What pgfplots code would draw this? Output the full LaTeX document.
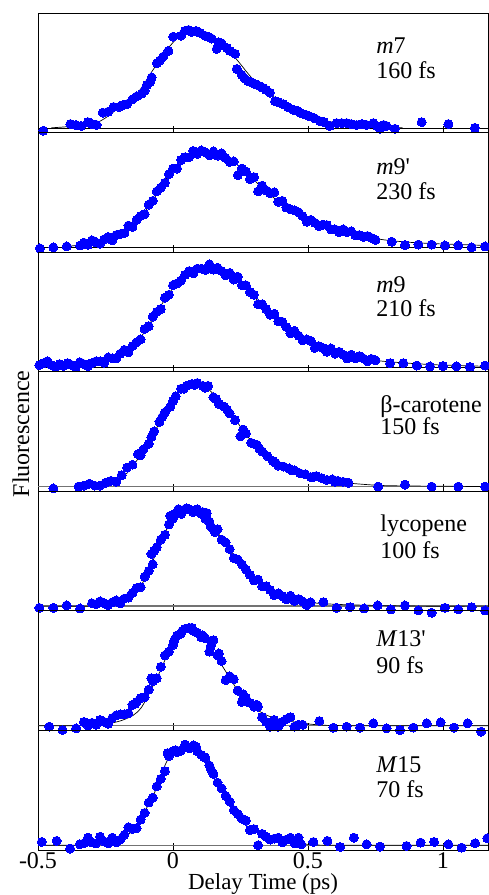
\documentclass[border=0pt]{standalone}
\usepackage{fontspec}
\setmainfont{Liberation Serif}
\usepackage{pgfplots}
\pgfplotsset{compat=1.18}

\pgfplotsset{
  panel/.style={
    scale only axis, width=450pt, height=119.57pt, anchor=south west,
    xmin=-0.5, xmax=1.1667, ymin=-0.05, ymax=1.2086,
    xtick={-0.5,0,0.5,1}, xticklabels={}, xtick pos=left, tick align=inside,
    major tick length=7pt, ytick=\empty,
    axis line style={line width=0.8pt},
    every tick/.style={black, line width=0.8pt},
    clip=false,
    ticklabel style={font=\fontsize{24}{25}\selectfont, inner sep=2pt},
  },
  dots/.style={only marks, mark=*, mark size=4.5pt, color=blue, mark options={fill=blue, draw=blue, line width=0pt}},
  fit/.style={black, line width=0.7pt, smooth, no marks},
  zero/.style={black, line width=0.6pt, no marks},
  zerog/.style={black!55, line width=1.4pt, no marks},
}
\tikzset{lab/.style={anchor=base west, font=\fontsize{24}{25}\selectfont}}

\begin{document}
\begin{tikzpicture}[x=1pt,y=1pt]

% m7
\begin{axis}[panel, at={(38pt,762.42pt)}]
\addplot[zero] coordinates {(-0.5,0) (1.1667,0)};
\addplot[dots] coordinates {(-0.48,-0.03) (-0.38,0.04) (-0.36,0.03) (-0.34,0.02) (-0.315,0.06) (-0.30,0.04) (-0.283,0.03) (-0.26,0.16) (-0.24,0.17) (-0.22,0.22) (-0.20,0.22) (-0.185,0.24) (-0.17,0.25) (-0.15,0.30) (-0.135,0.33) (-0.116,0.36) (-0.105,0.39) (-0.097,0.45) (-0.085,0.48) (-0.079,0.53) (-0.06,0.68) (-0.048,0.71) (-0.036,0.75) (-0.017,0.81) (0.001,0.96) (0.03,0.97) (0.044,1.02) (0.058,1.03) (0.069,1.01) (0.085,1.02) (0.1,1.0) (0.118,0.97) (0.13,0.96) (0.143,0.94) (0.162,0.83) (0.168,0.90) (0.18,0.89) (0.2,0.84) (0.211,0.81) (0.23,0.78) (0.236,0.62) (0.254,0.56) (0.265,0.52) (0.279,0.49) (0.29,0.48) (0.304,0.46) (0.32,0.44) (0.334,0.42) (0.345,0.40) (0.359,0.37) (0.378,0.28) (0.39,0.27) (0.408,0.25) (0.425,0.22) (0.446,0.19) (0.46,0.18) (0.47,0.16) (0.49,0.14) (0.507,0.12) (0.525,0.10) (0.544,0.07) (0.56,0.06) (0.581,0.02) (0.606,0.05) (0.625,0.05) (0.643,0.05) (0.66,0.04) (0.68,0.03) (0.70,0.04) (0.717,0.03) (0.742,0.05) (0.755,0.02) (0.767,-0.01) (0.78,0.03) (0.791,0.02) (0.822,-0.01) (0.921,0.06) (1.02,0.04) (1.118,0.0)};
\addplot[fit] coordinates {(-0.45,0) (-0.40,0.01) (-0.33,0.03) (-0.27,0.07) (-0.21,0.19) (-0.16,0.30) (-0.122,0.40) (-0.074,0.61) (-0.023,0.82) (0.026,0.97) (0.07,1.01) (0.11,1.0) (0.149,0.93) (0.223,0.76) (0.297,0.51) (0.385,0.30) (0.47,0.16) (0.57,0.07) (0.72,0.02) (0.85,0.0)};
\node[lab] at (axis description cs:0.744,0.665) {\textit{m}7};
\node[lab] at (axis description cs:0.744,0.456) {160 fs};
\end{axis}

% m9'
\begin{axis}[panel, at={(38pt,642.85pt)}]
\addplot[zero] coordinates {(-0.5,0) (1.1667,0)};
\addplot[dots] coordinates {(-0.493,-0.01) (-0.443,0.0) (-0.394,0.01) (-0.344,0.02) (-0.33,0.05) (-0.315,0.027) (-0.30,0.075) (-0.285,0.052) (-0.27,0.04) (-0.255,0.085) (-0.24,0.11) (-0.225,0.075) (-0.21,0.13) (-0.195,0.14) (-0.18,0.15) (-0.165,0.23) (-0.15,0.215) (-0.135,0.29) (-0.12,0.33) (-0.105,0.35) (-0.09,0.45) (-0.075,0.49) (-0.06,0.59) (-0.045,0.63) (-0.03,0.68) (-0.015,0.77) (0,0.83) (0.015,0.83) (0.03,0.92) (0.045,0.95) (0.06,0.95) (0.075,1.015) (0.09,0.985) (0.105,1.02) (0.12,1.0) (0.135,0.97) (0.15,1.01) (0.165,0.965) (0.18,0.99) (0.195,0.94) (0.21,0.90) (0.225,0.905) (0.24,0.76) (0.255,0.83) (0.27,0.80) (0.285,0.72) (0.30,0.74) (0.315,0.59) (0.33,0.65) (0.345,0.60) (0.36,0.57) (0.375,0.58) (0.39,0.48) (0.405,0.49) (0.42,0.42) (0.435,0.40) (0.45,0.39) (0.465,0.37) (0.48,0.33) (0.495,0.27) (0.51,0.29) (0.525,0.26) (0.54,0.225) (0.555,0.24) (0.57,0.235) (0.585,0.19) (0.60,0.19) (0.615,0.16) (0.63,0.19) (0.645,0.16) (0.66,0.17) (0.675,0.13) (0.69,0.13) (0.705,0.11) (0.72,0.12) (0.735,0.10) (0.75,0.08) (0.81,0.06) (0.859,0.025) (0.909,0.03) (0.958,0.03) (1.007,0.02) (1.057,0.02) (1.106,0.0) (1.156,0.01)};
\addplot[fit] coordinates {(-0.394,0.01) (-0.33,0.03) (-0.27,0.06) (-0.2,0.13) (-0.147,0.23) (-0.085,0.45) (-0.023,0.73) (0.038,0.94) (0.08,0.99) (0.125,1.0) (0.17,0.97) (0.223,0.90) (0.27,0.79) (0.322,0.65) (0.365,0.54) (0.409,0.45) (0.47,0.34) (0.532,0.25) (0.6,0.19) (0.656,0.15) (0.72,0.11) (0.78,0.08) (0.87,0.055) (0.963,0.04) (1.06,0.03) (1.1667,0.02)};
\node[lab] at (axis description cs:0.744,0.649) {\textit{m}9\textquotesingle};
\node[lab] at (axis description cs:0.744,0.440) {230 fs};
\end{axis}

% m9
\begin{axis}[panel, at={(38pt,523.28pt)}]
\addplot[zero] coordinates {(-0.5,0) (1.1667,0)};
\addplot[dots] coordinates {(-0.495,0.02) (-0.48,0.04) (-0.465,0.06) (-0.45,0.02) (-0.435,0.0) (-0.42,0.03) (-0.405,0.01) (-0.39,0.04) (-0.375,0.02) (-0.36,0.0) (-0.345,0.05) (-0.33,0.03) (-0.315,0.01) (-0.30,0.04) (-0.285,0.06) (-0.27,0.06) (-0.255,0.045) (-0.24,0.10) (-0.225,0.09) (-0.21,0.09) (-0.195,0.14) (-0.18,0.18) (-0.165,0.155) (-0.15,0.22) (-0.135,0.26) (-0.12,0.29) (-0.105,0.40) (-0.09,0.43) (-0.075,0.53) (-0.06,0.58) (-0.045,0.61) (-0.03,0.73) (-0.015,0.76) (0,0.86) (0.015,0.88) (0.03,0.91) (0.045,0.97) (0.06,1.01) (0.075,0.985) (0.09,1.035) (0.105,1.035) (0.12,1.02) (0.135,1.08) (0.15,1.025) (0.165,1.045) (0.18,1.01) (0.195,0.965) (0.21,0.99) (0.225,0.92) (0.24,0.95) (0.255,0.86) (0.27,0.86) (0.285,0.79) (0.30,0.76) (0.315,0.66) (0.33,0.66) (0.345,0.61) (0.36,0.55) (0.375,0.56) (0.39,0.48) (0.405,0.475) (0.42,0.42) (0.435,0.355) (0.45,0.38) (0.465,0.33) (0.48,0.28) (0.495,0.29) (0.51,0.275) (0.525,0.20) (0.54,0.22) (0.555,0.20) (0.57,0.16) (0.585,0.195) (0.60,0.14) (0.615,0.16) (0.63,0.13) (0.645,0.09) (0.66,0.13) (0.675,0.09) (0.69,0.115) (0.705,0.09) (0.72,0.06) (0.735,0.085) (0.75,0.07) (0.804,0.04) (0.853,0.04) (0.903,0.015) (0.952,0.006) (1.0,0.01) (1.05,0.006) (1.1,0.0) (1.156,0.015)};
\addplot[fit] coordinates {(-0.5,0.006) (-0.4,0.006) (-0.332,0.01) (-0.28,0.03) (-0.233,0.077) (-0.19,0.14) (-0.147,0.22) (-0.115,0.33) (-0.085,0.46) (-0.055,0.60) (-0.023,0.74) (0.008,0.86) (0.038,0.95) (0.08,1.02) (0.125,1.04) (0.16,1.03) (0.199,0.99) (0.235,0.91) (0.273,0.81) (0.31,0.71) (0.347,0.60) (0.39,0.49) (0.433,0.39) (0.48,0.30) (0.532,0.22) (0.59,0.16) (0.656,0.11) (0.72,0.08) (0.779,0.06) (0.87,0.04) (0.964,0.024) (1.06,0.015) (1.1667,0.006)};
\node[lab] at (axis description cs:0.744,0.660) {\textit{m}9};
\node[lab] at (axis description cs:0.744,0.465) {210 fs};
\end{axis}

% beta-carotene
\begin{axis}[panel, at={(38pt,403.71pt)}]
\addplot[zerog] coordinates {(-0.5,0) (1.1667,0)};
\addplot[dots] coordinates {(-0.443,-0.02) (-0.35,0.0) (-0.33,0.01) (-0.31,0.03) (-0.29,0.01) (-0.27,0.01) (-0.25,0.04) (-0.23,0.06) (-0.21,0.05) (-0.19,0.12) (-0.17,0.20) (-0.15,0.23) (-0.13,0.34) (-0.12,0.33) (-0.11,0.39) (-0.09,0.45) (-0.08,0.52) (-0.07,0.58) (-0.05,0.68) (-0.04,0.73) (-0.03,0.78) (-0.01,0.84) (0.0,0.90) (0.01,0.95) (0.03,1.03) (0.04,1.03) (0.05,1.06) (0.07,1.08) (0.08,1.07) (0.09,1.09) (0.11,1.06) (0.12,1.04) (0.13,1.06) (0.15,0.94) (0.16,0.92) (0.17,0.87) (0.19,0.84) (0.20,0.81) (0.21,0.77) (0.23,0.70) (0.25,0.53) (0.26,0.60) (0.27,0.56) (0.29,0.46) (0.31,0.44) (0.32,0.40) (0.33,0.37) (0.35,0.32) (0.37,0.27) (0.38,0.25) (0.39,0.22) (0.41,0.21) (0.43,0.19) (0.44,0.17) (0.45,0.17) (0.47,0.14) (0.49,0.13) (0.51,0.10) (0.52,0.10) (0.53,0.11) (0.55,0.09) (0.57,0.07) (0.59,0.075) (0.60,0.05) (0.61,0.06) (0.63,0.05) (0.65,0.04) (0.76,0.0) (0.859,0.02) (0.958,0.0) (1.057,0.0) (1.156,0.0)};
\addplot[fit] coordinates {(-0.357,0) (-0.29,0.01) (-0.233,0.04) (-0.2,0.08) (-0.171,0.14) (-0.14,0.25) (-0.11,0.38) (-0.085,0.50) (-0.06,0.62) (-0.04,0.73) (-0.023,0.83) (0.0,0.92) (0.014,0.97) (0.04,1.03) (0.063,1.06) (0.08,1.07) (0.10,1.07) (0.12,1.05) (0.137,1.01) (0.165,0.93) (0.199,0.83) (0.23,0.71) (0.26,0.59) (0.29,0.48) (0.322,0.38) (0.36,0.29) (0.409,0.20) (0.47,0.14) (0.532,0.095) (0.59,0.06) (0.656,0.035) (0.72,0.02) (0.78,0.01) (0.9,0.005) (1.1667,0.0)};
\node[lab] at (axis description cs:0.753,0.660) {β-carotene};
\node[lab] at (axis description cs:0.753,0.479) {150 fs};
\end{axis}

% lycopene
\begin{axis}[panel, at={(38pt,284.14pt)}]
\addplot[zerog] coordinates {(-0.5,0) (1.1667,0)};
\addplot[dots] coordinates {(-0.495,-0.018) (-0.443,-0.018) (-0.394,0.007) (-0.344,-0.025) (-0.30,0.03) (-0.285,0.02) (-0.27,0.05) (-0.255,0.03) (-0.24,0.01) (-0.225,0.04) (-0.21,0.06) (-0.195,0.03) (-0.18,0.08) (-0.165,0.09) (-0.15,0.14) (-0.135,0.19) (-0.12,0.20) (-0.105,0.31) (-0.09,0.37) (-0.08,0.55) (-0.075,0.44) (-0.07,0.58) (-0.06,0.62) (-0.045,0.70) (-0.03,0.75) (-0.015,0.86) (-0.01,0.95) (0,0.92) (0.005,0.97) (0.015,0.98) (0.02,1.02) (0.03,0.97) (0.045,1.02) (0.05,1.03) (0.06,1.02) (0.075,0.99) (0.08,1.01) (0.09,1.02) (0.105,0.97) (0.11,0.99) (0.12,0.92) (0.125,0.98) (0.135,0.89) (0.14,0.84) (0.15,0.81) (0.155,0.78) (0.165,0.81) (0.18,0.70) (0.195,0.67) (0.21,0.60) (0.225,0.505) (0.24,0.49) (0.255,0.44) (0.27,0.385) (0.285,0.33) (0.30,0.27) (0.315,0.28) (0.33,0.21) (0.345,0.21) (0.36,0.17) (0.375,0.115) (0.39,0.135) (0.405,0.105) (0.42,0.07) (0.435,0.11) (0.45,0.055) (0.465,0.075) (0.48,0.05) (0.495,0.01) (0.51,0.04) (0.557,0.042) (0.606,-0.018) (0.656,-0.011) (0.708,-0.025) (0.758,0.007) (0.807,-0.035) (0.859,0.007) (0.909,-0.046) (0.958,-0.07) (1.007,-0.018) (1.057,-0.035) (1.106,-0.011) (1.156,-0.046)};
\addplot[fit] coordinates {(-0.5,0) (-0.3,0) (-0.25,0.015) (-0.209,0.035) (-0.175,0.07) (-0.147,0.12) (-0.12,0.21) (-0.097,0.33) (-0.078,0.45) (-0.06,0.58) (-0.04,0.70) (-0.023,0.81) (0.0,0.90) (0.014,0.95) (0.04,0.99) (0.063,1.0) (0.09,0.99) (0.112,0.96) (0.135,0.89) (0.162,0.79) (0.19,0.67) (0.223,0.54) (0.255,0.42) (0.285,0.33) (0.315,0.25) (0.347,0.19) (0.38,0.14) (0.421,0.09) (0.46,0.06) (0.495,0.04) (0.593,0.02) (0.7,0.01) (0.9,0.0) (1.1667,0.0)};
\node[lab] at (axis description cs:0.753,0.660) {lycopene};
\node[lab] at (axis description cs:0.753,0.437) {100 fs};
\end{axis}

% M13'
\begin{axis}[panel, at={(38pt,164.57pt)}]
\addplot[zerog] coordinates {(-0.5,0) (1.1667,0)};
\addplot[dots] coordinates {(-0.458,-0.01) (-0.409,-0.046) (-0.359,-0.028) (-0.33,0.04) (-0.315,0.0) (-0.30,0.03) (-0.285,0.01) (-0.27,0.06) (-0.255,0.04) (-0.24,0.02) (-0.225,0.08) (-0.21,0.11) (-0.195,0.12) (-0.18,0.12) (-0.165,0.13) (-0.15,0.22) (-0.14,0.23) (-0.135,0.25) (-0.12,0.29) (-0.105,0.30) (-0.09,0.38) (-0.08,0.50) (-0.075,0.47) (-0.06,0.50) (-0.045,0.62) (-0.03,0.74) (-0.015,0.78) (0,0.85) (0.005,0.90) (0.015,0.95) (0.03,0.97) (0.035,1.0) (0.045,1.02) (0.06,1.03) (0.07,1.03) (0.075,1.00) (0.09,0.98) (0.105,0.93) (0.11,0.95) (0.12,0.92) (0.135,0.78) (0.14,0.84) (0.15,0.90) (0.165,0.74) (0.17,0.76) (0.18,0.68) (0.195,0.48) (0.21,0.52) (0.225,0.49) (0.24,0.37) (0.255,0.25) (0.26,0.33) (0.27,0.29) (0.285,0.24) (0.30,0.20) (0.31,0.22) (0.315,0.20) (0.33,0.09) (0.345,0.04) (0.36,-0.01) (0.375,0.06) (0.39,-0.01) (0.405,0.04) (0.42,0.07) (0.435,0.09) (0.45,-0.01) (0.465,0.01) (0.48,0.01) (0.542,0.049) (0.594,-0.021) (0.643,-0.01) (0.693,-0.02) (0.742,0.025) (0.791,-0.028) (0.841,-0.046) (0.89,-0.02) (0.94,0.025) (0.991,0.035) (1.041,-0.02) (1.091,0.025) (1.141,-0.063)};
\addplot[fit] coordinates {(-0.5,0) (-0.332,0) (-0.28,0.01) (-0.233,0.025) (-0.19,0.055) (-0.147,0.11) (-0.12,0.18) (-0.097,0.29) (-0.072,0.43) (-0.048,0.57) (-0.03,0.69) (-0.011,0.81) (0.008,0.91) (0.026,0.97) (0.045,1.01) (0.063,1.02) (0.08,1.01) (0.1,0.97) (0.125,0.89) (0.149,0.78) (0.18,0.64) (0.211,0.50) (0.24,0.37) (0.273,0.25) (0.31,0.17) (0.347,0.11) (0.39,0.07) (0.446,0.04) (0.532,0.01) (0.65,0.0) (1.1667,0.0)};
\node[lab] at (axis description cs:0.744,0.699) {\textit{M}13\textquotesingle};
\node[lab] at (axis description cs:0.744,0.476) {90 fs};
\end{axis}

% M15
\begin{axis}[panel, at={(38pt,45pt)}, xticklabels={-0.5,0,0.5,1}]
\addplot[zerog] coordinates {(-0.5,0) (1.1667,0)};
\addplot[dots] coordinates {(-0.486,0.035) (-0.431,0.046) (-0.381,-0.035) (-0.345,0.01) (-0.33,0.02) (-0.315,0.08) (-0.30,0.03) (-0.285,0.02) (-0.27,0.09) (-0.255,0.04) (-0.24,0.02) (-0.225,0.08) (-0.21,0.03) (-0.195,0.06) (-0.18,0.11) (-0.165,0.19) (-0.15,0.17) (-0.135,0.18) (-0.12,0.27) (-0.105,0.34) (-0.09,0.45) (-0.075,0.50) (-0.06,0.62) (-0.045,0.70) (-0.03,0.78) (-0.02,0.97) (-0.015,0.94) (0,0.99) (0.01,1.0) (0.015,0.98) (0.025,0.99) (0.03,1.00) (0.045,1.06) (0.055,1.03) (0.06,1.02) (0.075,1.05) (0.085,1.04) (0.09,0.99) (0.105,0.95) (0.115,0.93) (0.12,0.92) (0.135,0.84) (0.14,0.80) (0.15,0.75) (0.165,0.66) (0.18,0.60) (0.195,0.52) (0.21,0.46) (0.225,0.37) (0.24,0.33) (0.255,0.28) (0.27,0.26) (0.285,0.16) (0.30,0.17) (0.315,0.0) (0.33,0.12) (0.345,0.09) (0.36,0.06) (0.375,0.07) (0.39,0.08) (0.405,0.03) (0.42,0.06) (0.435,0.08) (0.45,0.02) (0.465,0.08) (0.475,0.01) (0.52,0.035) (0.572,0.046) (0.619,-0.018) (0.67,0.08) (0.717,0.01) (0.767,-0.014) (0.865,-0.007) (0.917,0.028) (0.967,0.035) (1.02,0.01) (1.069,-0.025) (1.119,0.021) (1.164,0.074)};
\addplot[fit] coordinates {(-0.5,0) (-0.332,0) (-0.28,0.012) (-0.233,0.03) (-0.2,0.06) (-0.171,0.10) (-0.145,0.17) (-0.122,0.27) (-0.098,0.39) (-0.073,0.52) (-0.055,0.66) (-0.036,0.80) (-0.018,0.91) (0.001,0.99) (0.025,1.02) (0.051,1.03) (0.075,1.01) (0.1,0.98) (0.125,0.89) (0.149,0.77) (0.175,0.62) (0.199,0.48) (0.225,0.36) (0.248,0.27) (0.285,0.18) (0.322,0.12) (0.365,0.075) (0.409,0.045) (0.495,0.01) (0.6,0.0) (1.1667,0)};
\node[lab] at (axis description cs:0.744,0.644) {\textit{M}15};
\node[lab] at (axis description cs:0.744,0.435) {70 fs};
\end{axis}

\node[rotate=90, anchor=base, font=\fontsize{24}{25}\selectfont] at (29pt,461pt) {Fluorescence};
\node[anchor=base, inner sep=0pt, font=\fontsize{23}{24}\selectfont] at (263pt,5.6pt) {Delay Time (ps)};

\pgfresetboundingbox
\useasboundingbox (0pt,0pt) rectangle (488pt,895pt);
\end{tikzpicture}
\end{document}
